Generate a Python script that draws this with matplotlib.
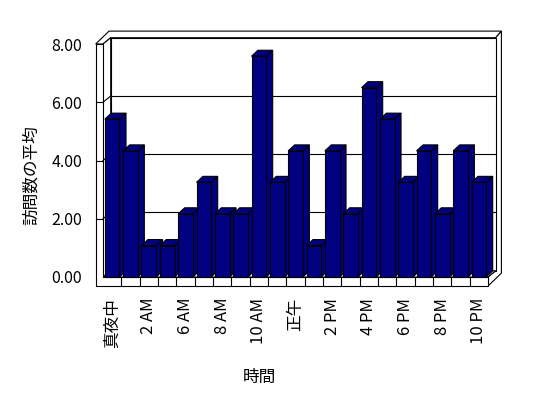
import matplotlib
matplotlib.use('Agg')
import matplotlib.pyplot as plt
from matplotlib.patches import Polygon

plt.rcParams['font.family'] = ['Noto Sans CJK JP', 'DejaVu Sans']

# data
categories = ['真夜中', '1 AM', '2 AM', '5 AM', '6 AM', '7 AM', '8 AM', '9 AM',
              '10 AM', '11 AM', '正午', '1 PM', '2 PM', '3 PM', '4 PM', '5 PM',
              '6 PM', '7 PM', '8 PM', '9 PM', '10 PM']
values = [5.42, 4.33, 1.08, 1.08, 2.17, 3.25, 2.17, 2.17, 7.58, 3.25, 4.33,
          1.08, 4.33, 2.17, 6.50, 5.42, 3.25, 4.33, 2.17, 4.33, 3.25]
yticks = [0, 2, 4, 6, 8]
ytick_labels = ['0.00', '2.00', '4.00', '6.00', '8.00']

NAVY = '#000080'
LW = 0.8
W = 0.8               # bar width (category units)
DX, DY = 0.42, 0.216  # depth of the plot box
TX, TY = 0.31, 0.227  # back wall thickness
WALL = 0.40           # left wall thickness
FL = 0.31             # floor thickness
BX, BY = 0.355, 0.206 # bar depth

n = len(values)
left, right, top = -0.5, n - 0.5, yticks[-1]

fig = plt.figure(figsize=(5.48, 3.98), dpi=100)
ax = fig.add_axes([0.17122, 0.27475, 0.7461, 0.65126])
ax.set_xlim(-1.0, 21.3)
ax.set_ylim(-0.4, 8.5)


def poly(pts, z, fc='white'):
    ax.add_patch(Polygon(pts, closed=True, facecolor=fc, edgecolor='black',
                         lw=LW, zorder=z, joinstyle='miter'))


# walls and floor
poly([(left - WALL, top), (left, top), (left + DX, top + DY), (right + DX, top + DY),
      (right + DX + TX, top + DY + TY), (left - WALL + DX + TX, top + DY + TY)], 1)
poly([(right + DX, top + DY), (right + DX + TX, top + DY + TY),
      (right + DX + TX, -FL + DY + TY), (right, -FL), (right, 0), (right + DX, DY)], 1)
poly([(left + DX, DY), (right + DX, DY), (right + DX, top + DY), (left + DX, top + DY)], 1)
poly([(left, 0), (left, top), (left + DX, top + DY), (left + DX, DY)], 2)
poly([(left, 0), (right, 0), (right + DX, DY), (left + DX, DY)], 2)
poly([(left - WALL, -FL), (right, -FL), (right, 0), (left, 0), (left, top),
      (left - WALL, top)], 2)

for v in yticks[1:-1]:
    ax.plot([left + DX, right + DX], [v + DY, v + DY], color='black', lw=LW, zorder=3)
    ax.plot([left, left + DX], [v, v + DY], color='black', lw=LW, zorder=3)
    ax.plot([left - WALL, left], [v, v], color='black', lw=LW, zorder=3)
for k in range(1, n):
    ax.plot([left + k, left + k], [-FL, 0], color='black', lw=LW, zorder=3)

# bars
bars = ax.bar(range(n), values, width=W, color=NAVY, edgecolor='black', linewidth=LW)
for i, (b, v) in enumerate(zip(bars, values)):
    x0, x1 = i - W / 2, i + W / 2
    z = 10 + i * 0.1
    poly([(x1, 0), (x1, v), (x1 + BX, v + BY), (x1 + BX, BY)], z, NAVY)
    poly([(x0, v), (x1, v), (x1 + BX, v + BY), (x0 + BX, v + BY)], z, NAVY)
    b.set_zorder(z + 0.05)

ax.set_xticks(range(0, n, 2))
ax.set_xticklabels(categories[::2], rotation=90, fontsize=12)
ax.set_yticks(yticks)
ax.set_yticklabels(ytick_labels, fontsize=11.5)
ax.tick_params(axis='x', length=0, pad=6.5)
ax.tick_params(axis='y', length=0, pad=8.5)
for s in ax.spines.values():
    s.set_visible(False)
ax.patch.set_visible(False)

fig.text(31 / 548, 1 - 175 / 398, '訪問数の平均', rotation=90, ha='center', va='center', fontsize=12)
fig.text(259 / 548, 1 - 377 / 398, '時間', ha='center', va='center', fontsize=12)

fig.savefig('out.png', dpi=100)
